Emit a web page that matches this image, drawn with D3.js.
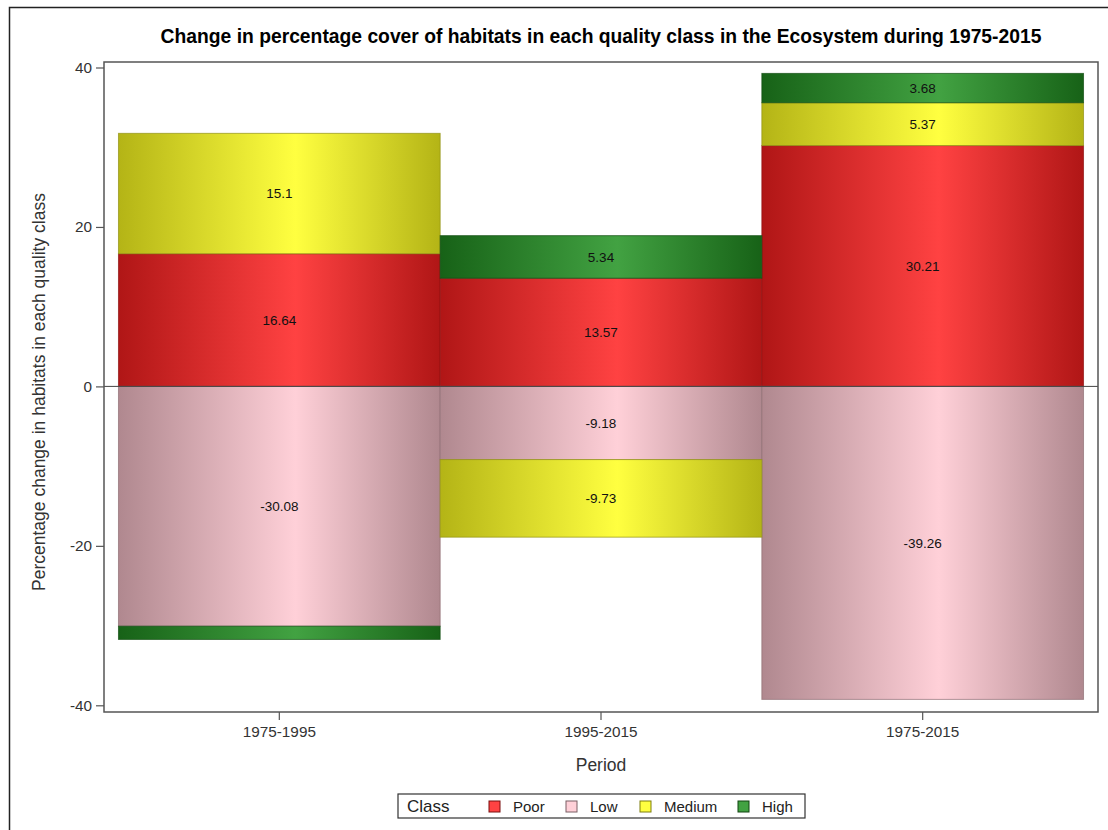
<!DOCTYPE html>
<html>
<head>
<meta charset="utf-8">
<script src="https://cdn.jsdelivr.net/npm/d3@7"></script>
<style>
  body { margin: 0; background: #fff; }
  svg { display: block; font-family: "Liberation Sans", Arial, sans-serif; }
</style>
</head>
<body>
<div id="chart-area"></div>
<script>
// data
var periods = ["1975-1995", "1995-2015", "1975-2015"];
var classes = ["Poor", "Low", "Medium", "High"];
var poor   = [16.64, 13.57, 30.21];
var low    = [-30.08, -9.18, -39.26];
var medium = [15.1, -9.73, 5.37];
var high   = [-1.66, 5.34, 3.68];
var yTicks = [-40, -20, 0, 20, 40];

// colours: edge (dark) and centre (light) of each bar gradient
var edgeColors   = {Poor: "#b01616", Low: "#b0888f", Medium: "#b4b416", High: "#176217"};
var centerColors = {Poor: "#ff4242", Low: "#ffd0d8", Medium: "#ffff40", High: "#42a242"};

var width = 1108, height = 830;
var plot = {left: 104, top: 62, right: 1098, bottom: 712};

var svg = d3.select("#chart-area")
    .append("svg")
        .attr("width", width)
        .attr("height", height);

// page frame
svg.append("rect")
    .attr("x", 9.5).attr("y", 7.5)
    .attr("width", width + 20).attr("height", height + 20)
    .attr("fill", "none")
    .attr("stroke", "#222")
    .attr("stroke-width", 1.5);

var defs = svg.append("defs");
classes.forEach(function (c) {
    var gr = defs.append("linearGradient")
        .attr("id", "grad-" + c)
        .attr("x1", "0%").attr("x2", "100%")
        .attr("y1", "0%").attr("y2", "0%");
    gr.append("stop").attr("offset", "0%").attr("stop-color", edgeColors[c]);
    gr.append("stop").attr("offset", "55%").attr("stop-color", centerColors[c]);
    gr.append("stop").attr("offset", "100%").attr("stop-color", edgeColors[c]);
});

var table = periods.map(function (p, i) {
    return {period: p, Poor: poor[i], Low: low[i], Medium: medium[i], High: high[i]};
});

var series = d3.stack()
    .keys(classes)
    .offset(d3.stackOffsetDiverging)(table);

var x = d3.scaleBand()
    .domain(periods)
    .range([plot.left, plot.right])
    .paddingInner(0)
    .paddingOuter(0.045);

var y = d3.scaleLinear()
    .domain([-40, 40])
    .range([705.3, 67.5]);

// title
svg.append("text")
    .attr("x", (plot.left + plot.right) / 2)
    .attr("y", 43)
    .attr("text-anchor", "middle")
    .attr("font-size", "19.3px")
    .attr("font-weight", "bold")
    .attr("fill", "#000")
    .text("Change in percentage cover of habitats in each quality class in the Ecosystem during 1975-2015");

// bars
var groups = svg.selectAll("g.layer")
    .data(series)
    .enter()
    .append("g")
        .attr("class", "layer");

groups.selectAll("rect")
    .data(function (s) { return s.map(function (d) { return {key: s.key, d: d}; }); })
    .enter()
    .append("rect")
        .attr("x", function (o) { return x(o.d.data.period); })
        .attr("y", function (o) { return y(Math.max(o.d[0], o.d[1])); })
        .attr("width", x.bandwidth())
        .attr("height", function (o) { return Math.abs(y(o.d[0]) - y(o.d[1])); })
        .attr("fill", function (o) { return "url(#grad-" + o.key + ")"; })
        .attr("stroke", function (o) { return d3.color(edgeColors[o.key]).darker(0.6); })
        .attr("stroke-opacity", 0.7)
        .attr("stroke-width", 1);

// data labels
groups.selectAll("text")
    .data(function (s) { return s.map(function (d) { return {key: s.key, d: d}; }); })
    .enter()
    .filter(function (o) { return Math.abs(y(o.d[0]) - y(o.d[1])) > 20; })
    .append("text")
        .attr("x", function (o) { return x(o.d.data.period) + x.bandwidth() / 2; })
        .attr("y", function (o) { return y((o.d[0] + o.d[1]) / 2); })
        .attr("dy", "0.35em")
        .attr("text-anchor", "middle")
        .attr("font-size", "13.5px")
        .attr("fill", "#111")
        .text(function (o) { return o.d.data[o.key]; });

// zero reference line
svg.append("line")
    .attr("x1", plot.left).attr("x2", plot.right)
    .attr("y1", y(0)).attr("y2", y(0))
    .attr("stroke", "#444")
    .attr("stroke-width", 1);

// plot frame
svg.append("rect")
    .attr("x", plot.left).attr("y", plot.top)
    .attr("width", plot.right - plot.left)
    .attr("height", plot.bottom - plot.top)
    .attr("fill", "none")
    .attr("stroke", "#555")
    .attr("stroke-width", 1.5);

// axes
var leftAxis = d3.axisLeft(y).tickValues(yTicks).tickSize(8).tickSizeOuter(0)
    .tickFormat(function (d) { return String(d); });
var gl = svg.append("g")
    .attr("class", "left axis")
    .attr("transform", "translate(" + plot.left + ",0)")
    .call(leftAxis);

var bottomAxis = d3.axisBottom(x).tickSize(8).tickSizeOuter(0);
var gb = svg.append("g")
    .attr("class", "bottom axis")
    .attr("transform", "translate(0," + plot.bottom + ")")
    .call(bottomAxis);

[gl, gb].forEach(function (g) {
    g.select(".domain").remove();
    g.selectAll(".tick line").attr("stroke", "#555").attr("stroke-width", 1.2);
    g.selectAll(".tick text")
        .attr("font-family", "Liberation Sans, Arial, sans-serif")
        .attr("font-size", "15.3px")
        .attr("fill", "#333");
});
gl.selectAll(".tick text").attr("x", -12);
gb.selectAll(".tick text").attr("y", 14);

// axis labels
svg.append("text")
    .attr("transform", "rotate(-90)")
    .attr("x", -392)
    .attr("y", 45)
    .attr("text-anchor", "middle")
    .attr("font-size", "17.5px")
    .attr("fill", "#333")
    .text("Percentage change in habitats in each quality class");

svg.append("text")
    .attr("x", (plot.left + plot.right) / 2)
    .attr("y", 771)
    .attr("text-anchor", "middle")
    .attr("font-size", "17.5px")
    .attr("fill", "#333")
    .text("Period");

// legend
var legend = svg.append("g").attr("transform", "translate(398,794)");
legend.append("rect")
    .attr("width", 407).attr("height", 24)
    .attr("fill", "#fff")
    .attr("stroke", "#333")
    .attr("stroke-width", 1.2);
legend.append("text")
    .attr("x", 9).attr("y", 18)
    .attr("font-size", "17px")
    .attr("fill", "#222")
    .text("Class");

var itemX = [91, 168, 242, 340];
var items = legend.selectAll("g.item")
    .data(classes)
    .enter()
    .append("g")
        .attr("class", "item")
        .attr("transform", function (c, i) { return "translate(" + itemX[i] + ",0)"; });
items.append("rect")
    .attr("x", 0).attr("y", 7)
    .attr("width", 11).attr("height", 11)
    .attr("fill", function (c) { return centerColors[c]; })
    .attr("stroke", function (c) { return d3.color(edgeColors[c]).darker(1); })
    .attr("stroke-width", 1);
items.append("text")
    .attr("x", 24).attr("y", 18)
    .attr("font-size", "15px")
    .attr("fill", "#222")
    .text(function (c) { return c; });
</script>
</body>
</html>
